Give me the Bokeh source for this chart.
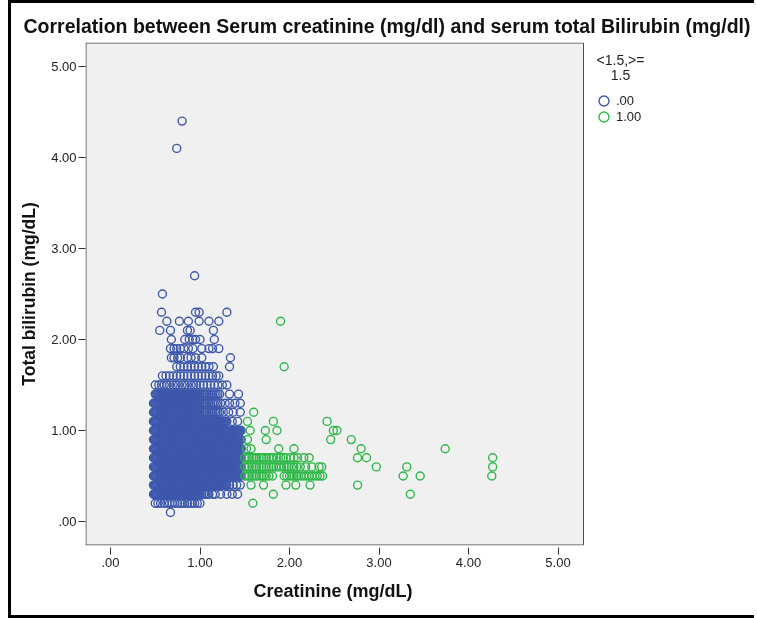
from bokeh.plotting import figure
from bokeh.models import Range1d, Legend, LegendItem, Label, BoxAnnotation, FixedTicker, Title
from bokeh.embed import file_html
from bokeh.resources import INLINE

# ---------------- data ----------------
# creatinine values (mg/dL) of the dense core, reused across bilirubin rows
core_a = [0.48, 0.49, 0.50, 0.51, 0.52, 0.53, 0.54, 0.55, 0.56, 0.57, 0.58, 0.59, 0.60, 0.61,
          0.62, 0.63, 0.64, 0.65, 0.66, 0.67, 0.68, 0.69, 0.70, 0.71, 0.72, 0.73, 0.74, 0.75,
          0.76, 0.77, 0.78, 0.79, 0.80, 0.81, 0.82, 0.83, 0.84, 0.85, 0.86, 0.87, 0.88, 0.89,
          0.90, 0.91, 0.92, 0.93, 0.94, 0.95, 0.96, 0.97, 0.98, 0.99, 1.00]
core_b = [1.01, 1.02, 1.03, 1.04, 1.05, 1.06, 1.07, 1.08, 1.09, 1.10, 1.11, 1.12, 1.13, 1.14, 1.15,
          1.16, 1.17, 1.18, 1.19, 1.20, 1.21, 1.22, 1.23, 1.24, 1.25, 1.26, 1.27, 1.28, 1.29, 1.30]
core_c = [1.31, 1.32, 1.33, 1.34, 1.35, 1.36, 1.37, 1.38, 1.39, 1.40, 1.41, 1.42, 1.43, 1.44, 1.45, 1.46]

# group .00 (creatinine < 1.5): bilirubin level -> creatinine values
blue_levels = [0.1, 0.2, 0.3, 0.4, 0.5, 0.6, 0.7, 0.8, 0.9, 1.0, 1.1, 1.2, 1.3, 1.4, 1.5,
               1.6, 1.7, 1.8, 1.9, 2.0, 2.1, 2.2, 2.3, 2.5, 2.7, 4.1, 4.4]
b01 = [0.67]
b02 = [0.50, 0.53, 0.56, 0.60, 0.63, 0.66, 0.69, 0.72, 0.75, 0.78, 0.80, 0.83, 0.86, 0.89, 0.91, 0.94, 0.97, 1.00]
b03 = core_a + [1.02, 1.04, 1.06, 1.08, 1.10, 1.14, 1.17, 1.23, 1.30, 1.36, 1.42]
b04 = core_a + core_b + [1.33, 1.37, 1.41, 1.45]
b05 = core_a + core_b + core_c
b06 = core_a + core_b + core_c
b07 = core_a + core_b + core_c
b08 = core_a + core_b + core_c
b09 = core_a + core_b + core_c
b10 = core_a + core_b + core_c
b11 = core_a + core_b + [1.36, 1.42]
b12 = core_a + [1.02, 1.04, 1.06, 1.08, 1.10, 1.12, 1.14, 1.16, 1.18, 1.20, 1.22, 1.26, 1.32, 1.37, 1.45]
b13 = core_a + [1.02, 1.04, 1.06, 1.08, 1.10, 1.12, 1.14, 1.16, 1.18, 1.20, 1.23, 1.28, 1.33, 1.39, 1.45]
b14 = core_a[2:] + [1.02, 1.04, 1.06, 1.08, 1.10, 1.12, 1.14, 1.16, 1.18, 1.20, 1.22, 1.33, 1.43]
b15 = [0.50, 0.54, 0.57, 0.60, 0.63, 0.66, 0.70, 0.73, 0.76, 0.80, 0.83, 0.86, 0.90, 0.93, 0.96,
       1.00, 1.04, 1.08, 1.12, 1.16, 1.20, 1.25, 1.30]
b16 = [0.58, 0.62, 0.66, 0.70, 0.74, 0.78, 0.82, 0.86, 0.90, 0.94, 0.98, 1.02, 1.06, 1.10, 1.14, 1.18, 1.21]
b17 = [0.74, 0.78, 0.82, 0.86, 0.90, 0.94, 0.98, 1.02, 1.06, 1.10, 1.15, 1.33]
b18 = [0.68, 0.71, 0.75, 0.78, 0.86, 0.90, 0.95, 1.02, 1.34]
b19 = [0.67, 0.71, 0.74, 0.78, 0.82, 0.87, 0.92, 1.02, 1.10, 1.14, 1.21]
b20 = [0.68, 0.83, 0.88, 0.92, 0.95, 1.00, 1.16]
b21 = [0.55, 0.67, 0.86, 0.89, 1.15]
b22 = [0.63, 0.77, 0.87, 0.99, 1.10, 1.21]
b23 = [0.57, 0.95, 0.99, 1.30]
b25 = [0.58]
b27 = [0.94]
b41 = [0.74]
b44 = [0.80]
blue_rows = [b01, b02, b03, b04, b05, b06, b07, b08, b09, b10, b11, b12, b13, b14, b15,
             b16, b17, b18, b19, b20, b21, b22, b23, b25, b27, b41, b44]

# group 1.00 (creatinine >= 1.5)
green_levels = [0.2, 0.3, 0.4, 0.5, 0.6, 0.7, 0.8, 0.9, 1.0, 1.1, 1.2, 1.7, 2.2]
g02 = [1.59]
g03 = [1.82, 3.35]
g04 = [1.57, 1.71, 1.96, 2.07, 2.23, 2.76]
g05 = [1.50, 1.53, 1.55, 1.58, 1.60, 1.63, 1.66, 1.69, 1.71, 1.74, 1.77, 1.81,
       1.94, 1.97, 2.00, 2.03, 2.05, 2.08, 2.10, 2.13, 2.16, 2.19, 2.22, 2.25, 2.28, 2.31, 2.34, 2.37,
       3.27, 3.46, 4.26]
g06 = [1.50, 1.53, 1.55, 1.58, 1.60, 1.63, 1.66, 1.69, 1.71, 1.74, 1.77, 1.80, 1.82, 1.85, 1.88,
       1.91, 1.94, 1.97, 1.99, 2.02, 2.05, 2.08, 2.12, 2.18, 2.25, 2.33, 2.36, 2.97, 3.31, 4.27]
g07 = [1.50, 1.53, 1.55, 1.58, 1.60, 1.63, 1.66, 1.69, 1.71, 1.74, 1.77, 1.80, 1.82, 1.86, 1.90,
       1.93, 1.96, 2.01, 2.05, 2.09, 2.16, 2.22, 2.76, 2.86, 4.27]
g08 = [1.52, 1.57, 1.88, 2.05, 2.80, 3.74]
g09 = [1.53, 1.74, 2.46, 2.69]
g10 = [1.56, 1.73, 1.86, 2.49, 2.53]
g11 = [1.53, 1.82, 2.42]
g12 = [1.60]
g17 = [1.94]
g22 = [1.90]
green_rows = [g02, g03, g04, g05, g06, g07, g08, g09, g10, g11, g12, g17, g22]

x_tick_vals = [0, 1, 2, 3, 4, 5]
x_tick_labels = [".00", "1.00", "2.00", "3.00", "4.00", "5.00"]
y_tick_vals = [0, 1, 2, 3, 4, 5]
y_tick_labels = [".00", "1.00", "2.00", "3.00", "4.00", "5.00"]
legend_title = ["<1.5,>=", "1.5"]
legend_labels = [".00", "1.00"]
title_text = "Correlation between Serum creatinine (mg/dl) and serum total Bilirubin (mg/dl)"
x_title = "Creatinine (mg/dL)"
y_title = "Total bilirubin (mg/dL)"

# ---------------- build ----------------
def expand(levels, rows):
    xs, ys = [], []
    for lvl, row in zip(levels, rows):
        for v in row:
            xs.append(v)
            ys.append(lvl)
    return xs, ys

bx, by = expand(blue_levels, blue_rows)
gx, gy = expand(green_levels, green_rows)

FONT = "Liberation Sans"
BLUE = "#3E58AC"
GREEN = "#2EB848"

# page-pixel -> data helpers (0.00 at x=110 px, 5.00 at 557.5 px; 0.00 at y=521 px, 5.00 at 66 px)
def dx(px):
    return (px - 110) / 89.5

def dy(py):
    return (521 - py) / 91.0

# canvas sits at page (11, 3); a 3px black border is drawn on its left/top/bottom
CANVAS_W, CANVAS_H = 746, 618
p = figure(width=CANVAS_W, height=CANVAS_H, title=None,
           x_range=Range1d(dx(85), dx(757)), y_range=Range1d(dy(545), dy(42)),
           output_backend="svg", toolbar_location=None,
           min_border_left=74, min_border_right=0, min_border_top=39, min_border_bottom=76)
p.styles = {"position": "fixed", "left": "8px", "top": "0px",
            "border-left": "3px solid black", "border-top": "3px solid black",
            "border-bottom": "3px solid black"}

p.background_fill_color = "white"
p.border_fill_color = "white"
p.outline_line_color = None
p.xgrid.visible = False
p.ygrid.visible = False

# grey plotting area with its dark outline
p.add_layout(BoxAnnotation(left=dx(85.5), right=dx(583), top=dy(42.5), bottom=dy(544.5),
                           fill_color="#f0f0f0", fill_alpha=1, line_color="#4d4d4d",
                           line_width=1, line_alpha=1, level="underlay"))

for ax, vals, labs in ((p.xaxis, x_tick_vals, x_tick_labels), (p.yaxis, y_tick_vals, y_tick_labels)):
    ax.ticker = FixedTicker(ticks=vals)
    ax.major_label_overrides = dict(zip(vals, labs))
    ax.axis_line_color = None
    ax.minor_tick_line_color = None
    ax.major_tick_line_color = "#333333"
    ax.major_label_text_font = FONT
    ax.major_label_text_font_size = "13px"
    ax.major_label_text_color = "#222222"
    ax.axis_label_text_font = FONT
    ax.axis_label_text_font_size = "17.5px"
    ax.axis_label_text_font_style = "bold"
    ax.axis_label_text_color = "#111111"

p.xaxis.major_tick_in = -2
p.xaxis.major_tick_out = 9
p.xaxis.major_label_standoff = 3

p.yaxis.major_tick_in = 0
p.yaxis.major_tick_out = 7
p.yaxis.major_label_standoff = 2
p.yaxis.axis_label = y_title
p.yaxis.axis_label_standoff = 9

# x-axis title, placed under the grey plotting area
p.add_layout(Title(text=x_title, align="left", offset=168, standoff=19,
                   text_font=FONT, text_font_size="18px", text_font_style="bold",
                   text_color="#111111"), "below")

# main title
p.add_layout(Title(text=title_text, align="left", offset=-62, standoff=12,
                   text_font=FONT, text_font_size="19.5px", text_font_style="bold",
                   text_color="#111111"), "above")

r_blue = p.scatter(bx, by, marker="circle", size=8, fill_color=None,
                   line_color=BLUE, line_width=1.4)
r_green = p.scatter(gx, gy, marker="circle", size=8, fill_color=None,
                    line_color=GREEN, line_width=1.4)

# one legend per item so that the two rows can sit closer than the glyph box
for i, (lab, rend) in enumerate(zip(legend_labels, (r_blue, r_green))):
    lg = Legend(items=[LegendItem(label=lab, renderers=[rend])],
                location=(506, 432 - 16 * i), glyph_width=25, glyph_height=25,
                label_height=14, label_width=20, spacing=0, padding=0, margin=0,
                label_standoff=0, border_line_color=None, background_fill_alpha=0,
                label_text_font=FONT, label_text_font_size="13px", label_text_color="#222222")
    p.add_layout(lg)

for txt, py in zip(legend_title, (59, 74)):
    p.add_layout(Label(x=dx(620), y=dy(py), text=txt, text_align="center", text_baseline="middle",
                       text_font=FONT, text_font_size="14px", text_color="#222222"))

open("out.html", "w").write(file_html(p, INLINE))
